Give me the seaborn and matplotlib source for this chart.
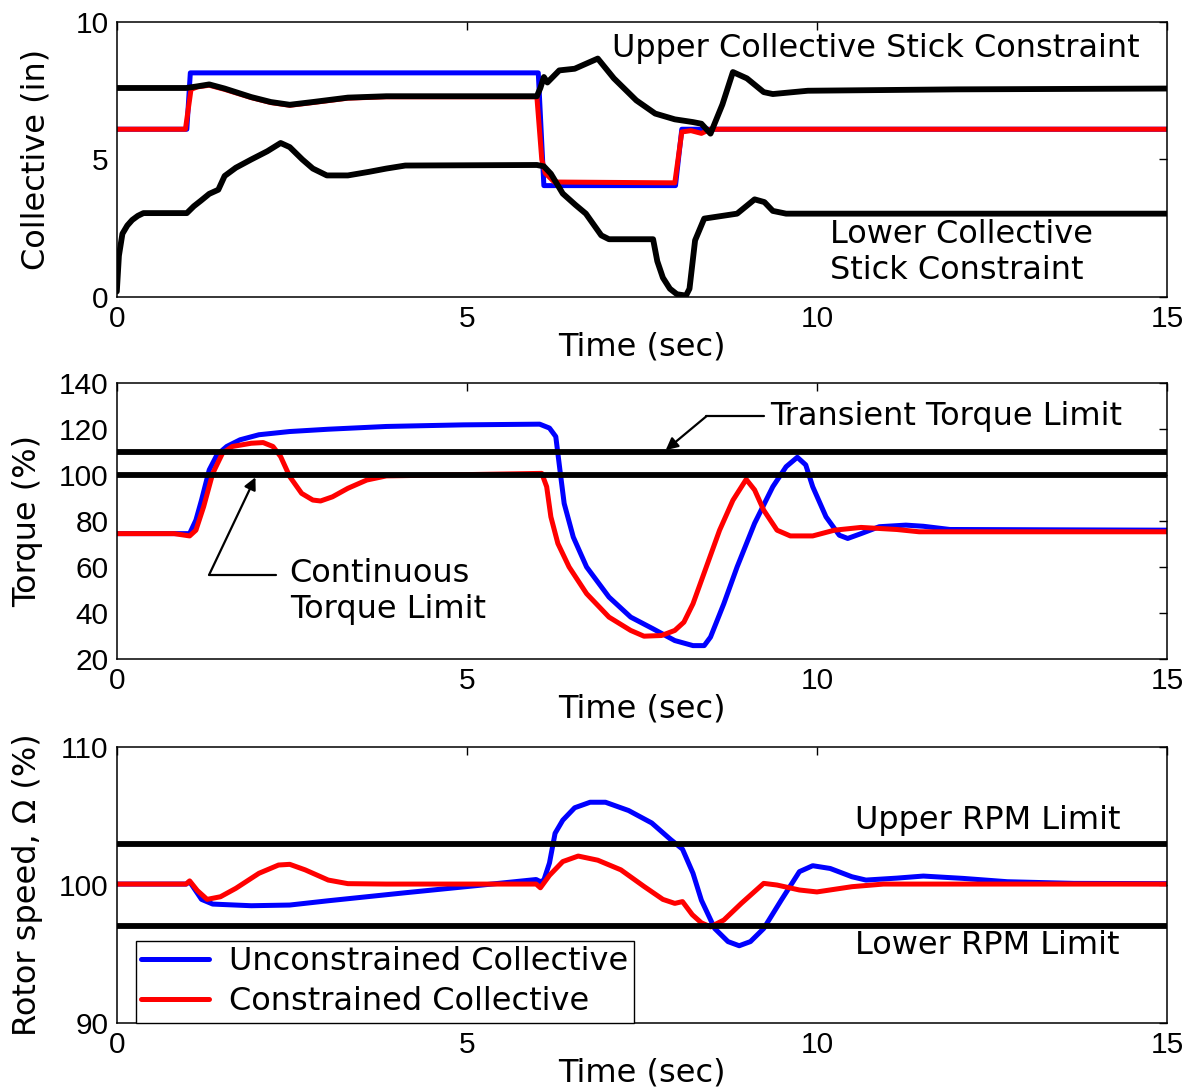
import matplotlib
matplotlib.use("Agg")
import matplotlib.pyplot as plt
import seaborn as sns
import numpy as np

# ---------------- data ----------------
# Top panel: collective (in)
t_coll_unc = [0, 1.0, 1.05, 6.02, 6.1, 7.98, 8.07, 15]
coll_unc = [6.1, 6.1, 8.15, 8.15, 4.05, 4.05, 6.1, 6.1]

t_coll_con = [0, 0.98, 1.06, 1.15, 1.32, 1.54, 1.92, 2.2, 2.47, 2.8, 3.3, 3.85, 6.0,
              6.07, 6.12, 6.25, 7.97, 8.07, 8.2, 8.35, 8.48, 15]
coll_con = [6.1, 6.1, 7.55, 7.64, 7.7, 7.55, 7.25, 7.07, 6.97, 7.07, 7.23, 7.28, 7.28,
            5.0, 4.5, 4.18, 4.15, 6.0, 6.05, 5.95, 6.1, 6.1]

t_upper = [0, 0.99, 1.15, 1.32, 1.54, 1.92, 2.2, 2.47, 2.8, 3.3, 3.85, 6.0, 6.05, 6.1,
           6.15, 6.32, 6.54, 6.7, 6.87, 7.1, 7.42, 7.69, 7.97, 8.23, 8.35, 8.48, 8.65,
           8.8, 9.0, 9.24, 9.37, 9.87, 12.0, 15]
upper = [7.6, 7.6, 7.66, 7.73, 7.58, 7.27, 7.09, 6.99, 7.09, 7.25, 7.3, 7.3, 7.6, 8.0,
         7.8, 8.24, 8.3, 8.48, 8.67, 7.95, 7.15, 6.67, 6.46, 6.36, 6.3, 5.94, 7.0,
         8.18, 7.95, 7.45, 7.38, 7.5, 7.55, 7.58]

t_lower = [0, 0.03, 0.08, 0.15, 0.22, 0.3, 0.38, 1.0, 1.1, 1.2, 1.32, 1.45, 1.54, 1.7,
           1.92, 2.15, 2.34, 2.47, 2.65, 2.8, 3.0, 3.3, 3.6, 3.85, 4.12, 6.0, 6.1, 6.2,
           6.37, 6.55, 6.7, 6.92, 7.03, 7.66, 7.72, 7.8, 7.9, 8.0, 8.13, 8.18, 8.26,
           8.39, 8.86, 8.99, 9.11, 9.25, 9.37, 9.56, 15]
lower = [0.2, 1.5, 2.3, 2.6, 2.8, 2.95, 3.05, 3.05, 3.3, 3.5, 3.75, 3.9, 4.4, 4.7,
         5.0, 5.3, 5.6, 5.45, 5.0, 4.67, 4.42, 4.42, 4.55, 4.67, 4.78, 4.8, 4.75, 4.48,
         3.76, 3.35, 3.03, 2.24, 2.1, 2.1, 1.3, 0.7, 0.3, 0.1, 0.05, 0.3, 2.06,
         2.85, 3.03, 3.3, 3.55, 3.45, 3.13, 3.03, 3.03]

# Middle panel: torque (%)
t_tq_unc = [0, 1.04, 1.13, 1.21, 1.32, 1.43, 1.57, 1.76, 2.03, 2.47, 3.02, 3.85, 4.95,
            6.04, 6.18, 6.27, 6.33, 6.39, 6.52, 6.71, 7.03, 7.34, 7.66, 7.97, 8.23,
            8.39, 8.48, 8.67, 8.86, 9.11, 9.37, 9.56, 9.72, 9.84, 9.94, 10.13, 10.32,
            10.44, 10.63, 10.89, 11.27, 11.52, 11.9, 15]
tq_unc = [74.5, 74.5, 80.4, 89.1, 102.2, 108.7, 112.4, 115.3, 117.5, 118.9, 119.9,
          121.1, 121.8, 122.1, 120.4, 116.7, 102, 87.6, 73, 60, 46.9, 38.2, 33.1, 28,
          25.8, 25.8, 29.5, 44, 60, 79, 94.9, 103.6, 107.7, 104.4, 94.9, 81.8, 73.8,
          72.4, 74.5, 77.5, 78.2, 77.7, 76.3, 76]

t_tq_con = [0, 0.82, 1.04, 1.13, 1.24, 1.37, 1.51, 1.65, 1.92, 2.09, 2.23, 2.34, 2.47,
            2.64, 2.8, 2.91, 3.08, 3.3, 3.57, 3.85, 6.07, 6.14, 6.2, 6.3, 6.46, 6.71,
            7.03, 7.34, 7.53, 7.78, 7.97, 8.1, 8.23, 8.42, 8.61, 8.8, 8.99, 9.11, 9.24,
            9.43, 9.62, 9.94, 10.25, 10.63, 11.14, 11.46, 15]
tq_con = [74.5, 74.5, 73.5, 76, 86.2, 100.7, 109.5, 112.4, 113.8, 114.1, 112.4, 108,
          99.3, 92, 89.1, 88.7, 90.5, 94.2, 97.8, 99.6, 100.7, 94.9, 81.8, 70.2, 60,
          48.4, 38.2, 32.4, 29.9, 30.2, 32.4, 36, 44, 60, 76, 89, 98.1, 93.5, 84.7,
          76, 73.5, 73.5, 76, 77.2, 76.3, 75.3, 75.3]

transient_limit = 110
continuous_limit = 100

# Bottom panel: rotor speed (%)
t_rpm_unc = [0, 0.99, 1.04, 1.21, 1.37, 1.92, 2.47, 3.02, 4.12, 5.22, 5.99, 6.05,
             6.1, 6.18, 6.26, 6.37, 6.54, 6.76, 6.98, 7.31, 7.64, 7.91, 8.08, 8.23,
             8.35, 8.54, 8.73, 8.89, 9.05, 9.24, 9.49, 9.75, 9.94, 10.19, 10.5, 10.7,
             11.14, 11.52, 12.09, 12.72, 13.67, 15]
rpm_unc = [100.07, 100.07, 100.24, 98.96, 98.62, 98.5, 98.55, 98.86, 99.44, 100.0,
           100.4, 100.24, 100.36, 101.6, 103.75, 104.7, 105.6, 106.0, 106.0, 105.4,
           104.5, 103.3, 102.6, 100.85, 98.9, 96.85, 95.9, 95.6, 95.9, 96.85, 98.9,
           100.97, 101.4, 101.2, 100.6, 100.36, 100.5, 100.65, 100.48, 100.24, 100.12,
           100.1]

t_rpm_con = [0, 0.99, 1.04, 1.15, 1.29, 1.48, 1.7, 2.03, 2.31, 2.47, 2.69, 3.02, 3.3,
             3.85, 5.99, 6.05, 6.18, 6.37, 6.59, 6.87, 7.2, 7.53, 7.8, 7.97, 8.08,
             8.22, 8.35, 8.48, 8.67, 8.92, 9.24, 9.43, 9.75, 10.0, 10.5, 10.95, 15]
rpm_con = [100.07, 100.07, 100.3, 99.6, 98.96, 99.15, 99.76, 100.85, 101.45, 101.5,
           101.1, 100.36, 100.1, 100.07, 100.07, 99.8, 100.7, 101.7, 102.1, 101.8,
           101.1, 99.9, 98.96, 98.67, 98.8, 97.85, 97.26, 96.97, 97.46, 98.67, 100.12,
           100.0, 99.64, 99.5, 99.88, 100.07, 100.07]

upper_rpm = 103
lower_rpm = 97

series_labels = ["Unconstrained Collective", "Constrained Collective"]

# ---------------- style ----------------
sns.set_style("white")
plt.rcParams["font.family"] = ["Liberation Sans", "DejaVu Sans"]
FS = 21.5          # tick labels
TFS = 23           # texts / axis labels / legend
TFONT = ["DejaVu Sans"]
plt.rcParams.update({
    "font.size": FS,
    "axes.linewidth": 1.1,
    "axes.edgecolor": "black",
    "axes.labelcolor": "black",
    "xtick.direction": "in",
    "ytick.direction": "in",
    "xtick.top": True,
    "ytick.right": True,
    "xtick.major.size": 6,
    "ytick.major.size": 6,
    "xtick.major.width": 1.0,
    "ytick.major.width": 1.0,
    "xtick.color": "black",
    "ytick.color": "black",
    "text.color": "black",
})

BLUE = (0, 0, 1)
RED = (1, 0, 0)
LW = 3.6

fig = plt.figure(figsize=(11.92, 10.89), dpi=100)
L, W = 0.098, 0.881
ax1 = fig.add_axes([L, 0.7273, W, 0.2525])
ax2 = fig.add_axes([L, 0.3949, W, 0.2534])
ax3 = fig.add_axes([L, 0.0606, W, 0.2534])


def line(ax, x, y, color, label=None, lw=LW):
    sns.lineplot(x=x, y=y, ax=ax, color=color, lw=lw, estimator=None, sort=False,
                 label=label, legend=False)


def txt(ax, x, y, s, **kw):
    ax.text(x, y, s, va="center", ha="left", fontsize=TFS, family=TFONT, **kw)


# Top
line(ax1, t_coll_unc, coll_unc, BLUE)
line(ax1, t_coll_con, coll_con, RED)
line(ax1, t_upper, upper, "black", lw=4.2)
line(ax1, t_lower, lower, "black", lw=4.2)
ax1.set_ylim(0, 10)
ax1.set_yticks([0, 5, 10])
ax1.set_ylabel("Collective (in)", fontsize=TFS, family=TFONT)
ax1.yaxis.set_label_coords(-0.062, 0.5)
txt(ax1, 7.07, 9.02, "Upper Collective Stick Constraint")
txt(ax1, 10.19, 1.62, "Lower Collective\nStick Constraint", linespacing=1.2)

# Middle
line(ax2, t_tq_unc, tq_unc, BLUE)
line(ax2, t_tq_con, tq_con, RED)
ax2.axhline(transient_limit, color="black", lw=4.2)
ax2.axhline(continuous_limit, color="black", lw=4.2)
ax2.set_ylim(20, 140)
ax2.set_yticks(np.arange(20, 141, 20))
ax2.set_ylabel("Torque (%)", fontsize=TFS, family=TFONT)
ax2.yaxis.set_label_coords(-0.0705, 0.5)
arrow_kw = dict(arrowstyle="-|>", color="black", lw=1.6, mutation_scale=18,
                shrinkA=0, shrinkB=0)
ax2.plot([9.24, 8.42], [125.5, 125.5], color="black", lw=1.6)
ax2.annotate("", xy=(7.84, 110.8), xytext=(8.42, 125.5), arrowprops=arrow_kw)
txt(ax2, 9.33, 125.5, "Transient Torque Limit")
ax2.plot([2.28, 1.32], [56.7, 56.7], color="black", lw=1.6)
ax2.annotate("", xy=(1.98, 99.0), xytext=(1.32, 56.7), arrowprops=arrow_kw)
txt(ax2, 2.47, 49.5, "Continuous\nTorque Limit", linespacing=1.2)

# Bottom
line(ax3, t_rpm_unc, rpm_unc, BLUE, label=series_labels[0])
line(ax3, t_rpm_con, rpm_con, RED, label=series_labels[1])
ax3.axhline(upper_rpm, color="black", lw=4.2)
ax3.axhline(lower_rpm, color="black", lw=4.2)
ax3.set_ylim(90, 110)
ax3.set_yticks([90, 100, 110])
ax3.set_ylabel("Rotor speed, \u03a9 (%)", fontsize=TFS, family=TFONT)
ax3.yaxis.set_label_coords(-0.0705, 0.5)
txt(ax3, 10.54, 104.7, "Upper RPM Limit")
txt(ax3, 10.54, 95.6, "Lower RPM Limit")
leg = ax3.legend(loc="lower left", bbox_to_anchor=(0.018, 0.0), borderaxespad=0,
                 fancybox=False, framealpha=1, edgecolor="black",
                 prop={"family": TFONT, "size": TFS},
                 handlelength=2.1, handletextpad=0.65, borderpad=0.18,
                 labelspacing=0.28)
leg.get_frame().set_linewidth(1.0)

for ax in (ax1, ax2, ax3):
    ax.set_xlim(0, 15)
    ax.set_xticks([0, 5, 10, 15])
    ax.set_xlabel("Time (sec)", labelpad=-1, fontsize=TFS, family=TFONT)
    ax.tick_params(labelsize=FS, pad=6)
    for s in ax.spines.values():
        s.set_visible(True)
        s.set_color("black")

fig.savefig("out.png", dpi=100, facecolor="white")
